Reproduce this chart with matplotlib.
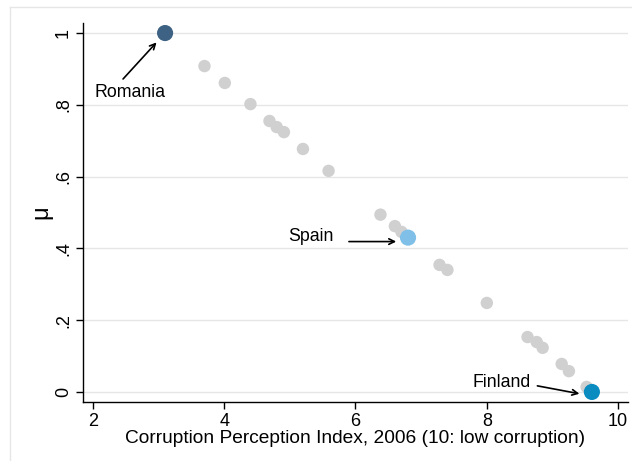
import matplotlib
matplotlib.use("Agg")
import matplotlib.pyplot as plt
from matplotlib.lines import Line2D

plt.rcParams['font.family'] = ['Liberation Sans', 'DejaVu Sans']

# Data
gray_x = [3.70, 4.01, 4.40, 4.69, 4.80, 4.91, 5.20, 5.59, 6.38, 6.60, 6.70,
          7.28, 7.40, 8.00, 8.62, 8.76, 8.85, 9.14, 9.25, 9.52]
gray_y = [0.908, 0.861, 0.802, 0.755, 0.738, 0.724, 0.677, 0.616, 0.494, 0.462, 0.446,
          0.354, 0.340, 0.248, 0.153, 0.139, 0.123, 0.078, 0.058, 0.014]
hl_names = ["Romania", "Spain", "Finland"]
hl_x = [3.1, 6.8, 9.6]
hl_y = [1.0, 0.43, 0.0]
hl_colors = ["#3d6283", "#7fbfe8", "#0a8cc0"]

xticks = [2, 4, 6, 8, 10]
yticks = [0, 0.2, 0.4, 0.6, 0.8, 1.0]
ytick_labels = ["0", ".2", ".4", ".6", ".8", "1"]

fig = plt.figure(figsize=(6.32, 4.61), dpi=100)
W, H = 632, 461
ax = fig.add_axes([83 / W, 1 - 402 / H, (628 - 83) / W, (402 - 23) / H])

# outer light border
fig.add_artist(Line2D([10 / W, 10 / W], [0, 1 - 7 / H], color="#e6e6e6", lw=1, transform=fig.transFigure))
fig.add_artist(Line2D([10 / W, 1], [1 - 7 / H, 1 - 7 / H], color="#e6e6e6", lw=1, transform=fig.transFigure))

ax.set_xlim(1.85, 10.15)
ax.set_ylim(-0.028, 1.028)

for yt in yticks:
    ax.axhline(yt, color="#e6e6e6", lw=1, zorder=0)

ax.scatter(gray_x, gray_y, s=80, color="#d0d0d0", edgecolors="none", zorder=2)
ax.scatter(hl_x, hl_y, s=135, color=hl_colors, edgecolors="none", zorder=3)

arrowprops = dict(arrowstyle="->", color="black", lw=1.2, shrinkA=0, shrinkB=0)
fs = 12.8
ax.annotate("", xy=(2.97, 0.974), xytext=(2.46, 0.872), arrowprops=arrowprops)
ax.text(2.02, 0.833, "Romania", fontsize=fs, ha="left", va="center")
ax.annotate("", xy=(6.62, 0.419), xytext=(5.90, 0.419), arrowprops=arrowprops)
ax.text(5.66, 0.432, "Spain", fontsize=fs, ha="right", va="center")
ax.annotate("", xy=(9.41, -0.005), xytext=(8.77, 0.017), arrowprops=arrowprops)
ax.text(8.67, 0.026, "Finland", fontsize=fs, ha="right", va="center")

ax.set_xticks(xticks)
ax.set_xticklabels([str(t) for t in xticks], fontsize=13)
ax.set_yticks(yticks)
ax.set_yticklabels(ytick_labels, fontsize=13, rotation=90, va="center")
ax.tick_params(direction="out", length=5, width=1, color="black", pad=3)

for s in ["top", "right"]:
    ax.spines[s].set_visible(False)
for s in ["left", "bottom"]:
    ax.spines[s].set_color("black")
    ax.spines[s].set_linewidth(1)

ax.set_xlabel("Corruption Perception Index, 2006 (10: low corruption)", fontsize=13.8, labelpad=0)
ax.set_ylabel("\u03bc", fontsize=17, labelpad=2)

fig.savefig("out.png", dpi=100, facecolor="white")
